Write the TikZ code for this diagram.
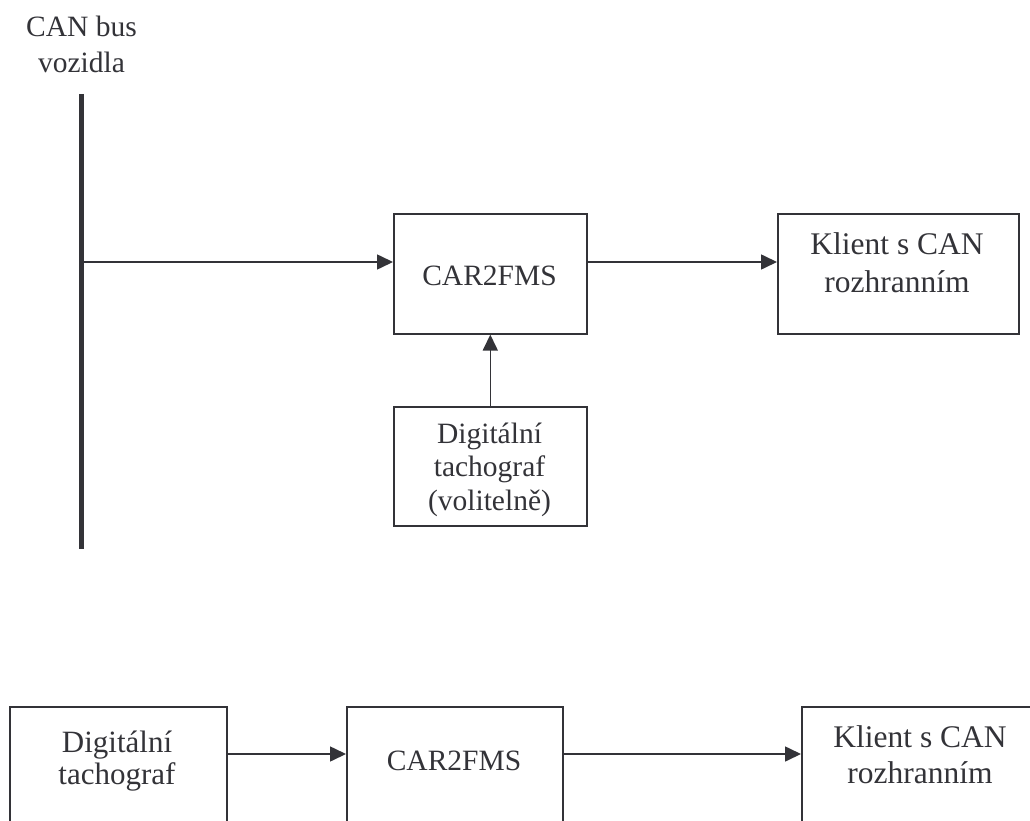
\documentclass[tikz,border=0pt]{standalone}
\usepackage{fontspec}
\setmainfont{Liberation Serif}
\usetikzlibrary{arrows.meta}
\definecolor{ink}{HTML}{333338}
\tikzset{
  boxr/.style={draw=ink, line width=1.6pt, rectangle, inner sep=0pt, anchor=north west},
  lbl/.style={text=ink, align=center, anchor=base, inner sep=0pt},
  conn/.style={draw=ink, line width=1.6pt, -{Triangle[length=16pt,width=15pt]}},
}
\newcommand{\fsz}[2]{\fontsize{#1}{#2}\selectfont}
\begin{document}
\begin{tikzpicture}[x=1pt,y=-1pt]
\useasboundingbox (0,0) rectangle (1030,821);
\clip (0,0) rectangle (1030,821);
% top diagram (anchor=base sits on the last line's baseline)
\node[lbl, font={\fsz{29.5}{36}}] (canlbl) at (81.5,73) {CAN bus\\vozidla};
\coordinate (busT) at (81.5,94);
\coordinate (busB) at (81.5,549);
\coordinate (tap) at (81.5,262);
\draw[ink, line width=5pt] (busT) -- (busB);

\node[boxr, minimum width=193pt, minimum height=120pt] (car) at (393,213) {};
\node[boxr, minimum width=241pt, minimum height=120pt] (kli) at (777,213) {};
\node[boxr, minimum width=193pt, minimum height=119pt] (tach) at (393,406) {};

\node[lbl, font={\fsz{29.5}{38}}] (carT) at (489.5,285) {CAR2FMS};
\node[lbl, font={\fsz{31.5}{38}}] (kliT) at (897,292) {Klient s CAN\\rozhranním};
\node[lbl, font={\fsz{29.5}{33.5}}] (tachT) at (489.5,510) {Digitální\\tachograf\\(volitelně)};

\draw[conn] (tap) -- (tap -| car.west);
\draw[conn] (car.east |- tap) -- (kli.west |- tap);
\draw[conn] (tach.north) -- (car.south);

% bottom diagram
\coordinate (row) at (0,754);
\node[boxr, minimum width=217pt, minimum height=200pt] (btach) at (9,706) {};
\node[boxr, minimum width=216pt, minimum height=200pt] (bcar) at (346,706) {};
\node[boxr, minimum width=240pt, minimum height=200pt] (bkli) at (801,706) {};

\node[lbl, font={\fsz{31}{32}}] (btachT) at (117,784) {Digitální\\tachograf};
\node[lbl, font={\fsz{29.5}{36}}] (bcarT) at (454,770) {CAR2FMS};
\node[lbl, font={\fsz{31.5}{36}}] (bkliT) at (920,783) {Klient s CAN\\rozhranním};

\draw[conn] (btach.east |- row) -- (bcar.west |- row);
\draw[conn] (bcar.east |- row) -- (bkli.west |- row);
\end{tikzpicture}
\end{document}
